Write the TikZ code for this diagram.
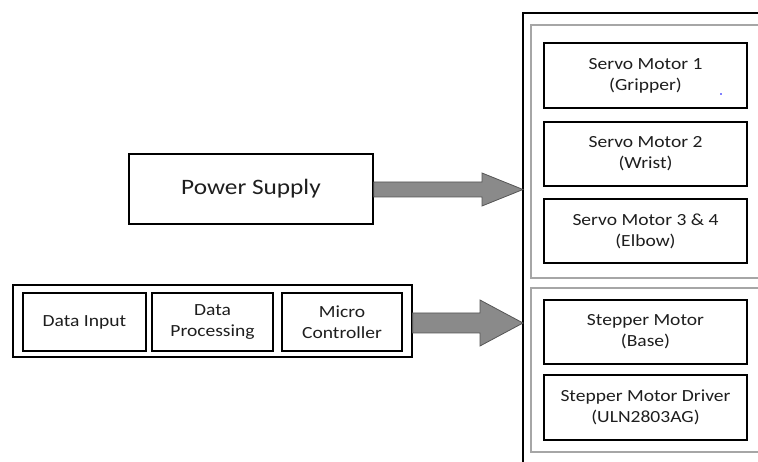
\documentclass[tikz,border=0pt]{standalone}
\usepackage{fontspec}
\setmainfont{Carlito}[FakeStretch=1.15]
\definecolor{greyline}{HTML}{A6A6A6}
\definecolor{arrowfill}{HTML}{8A8A8A}
\definecolor{arrowedge}{HTML}{555555}
\definecolor{txt}{HTML}{1E1E1E}
\tikzset{
  blk/.style={draw=black, line width=1.8pt, fill=white, inner sep=0pt, align=center,
              text=txt, font=\fontsize{17}{21}\selectfont},
  thinblk/.style={draw=black, line width=1.2pt, inner sep=0pt},
  greybox/.style={draw=greyline, line width=1.8pt},
  blockarrow/.style={fill=arrowfill, draw=arrowedge, line width=0.8pt, line join=miter},
}
\begin{document}
\begin{tikzpicture}[x=1pt,y=-1pt]
\useasboundingbox (0,0) rectangle (758,462);
\begin{scope}
\clip (0,0) rectangle (758,462);
% right hand enclosure
\draw[black, line width=1.8pt] (770,13) -- (523,13) -- (523,475);
\coordinate (outerL1) at (523,189.5);
\coordinate (outerL2) at (523,323);
\draw[greybox] (531,25) rectangle (775,278);
\draw[greybox] (531,288) rectangle (775,452);
\end{scope}
% motor boxes
\node[blk, minimum width=203pt, minimum height=65pt] (servo1) at (645.5,75.5) {Servo Motor 1\\(Gripper)};
\node[blk, minimum width=203pt, minimum height=64pt] (servo2) at (645.5,154) {Servo Motor 2\\(Wrist)};
\node[blk, minimum width=203pt, minimum height=64pt] (servo3) at (645.5,231) {Servo Motor 3 \& 4\\(Elbow)};
\node[blk, minimum width=203pt, minimum height=64pt] (stepper) at (645.5,332) {Stepper Motor\\(Base)};
\node[blk, minimum width=203pt, minimum height=65pt] (driver) at (645.5,407.5) {Stepper Motor Driver\\(ULN2803AG)};
\fill[blue] (721,94) circle (0.8pt);
% power supply
\node[blk, line width=1.6pt, minimum width=244pt, minimum height=70pt,
      font=\fontsize{22}{26}\selectfont] (power) at (251,189) {Power Supply};
% lower left group
\node[thinblk, minimum width=399pt, minimum height=72pt] (group) at (212.5,321) {};
\node[blk, minimum width=123pt, minimum height=58pt] (datain) at (84.5,322) {Data Input};
\node[blk, minimum width=121pt, minimum height=58pt] (dataproc) at (212.5,322) {Data\\Processing};
\node[blk, minimum width=120pt, minimum height=58pt] (micro) at (342,322) {Micro\\Controller};
% block arrows
\draw[blockarrow] (power.east |- 0,182) -- (482,182) -- (482,173) -- (outerL1)
   -- (482,206) -- (482,197) -- (power.east |- 0,197) -- cycle;
\draw[blockarrow] (group.east |- 0,313) -- (480,313) -- (480,300) -- (outerL2)
   -- (480,346) -- (480,333) -- (group.east |- 0,333) -- cycle;
\end{tikzpicture}
\end{document}
